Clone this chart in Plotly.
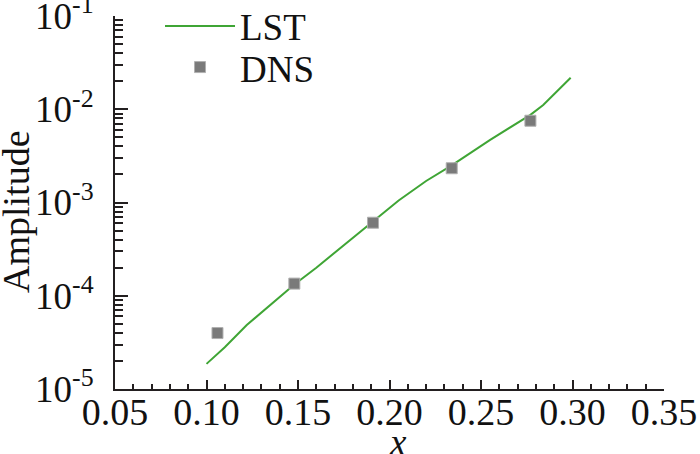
import plotly.graph_objects as go

# LST curve
lst_x = [0.100, 0.110, 0.122, 0.135, 0.148, 0.160, 0.175, 0.191, 0.205, 0.220,
         0.234, 0.255, 0.277, 0.284, 0.299]
lst_y = [1.86e-5, 2.8e-5, 4.85e-5, 8.0e-5, 1.32e-4, 2.0e-4, 3.5e-4, 6.3e-4,
         1.05e-3, 1.7e-3, 2.5e-3, 4.7e-3, 8.7e-3, 1.11e-2, 2.18e-2]

# DNS points
dns_x = [0.106, 0.148, 0.191, 0.234, 0.277]
dns_y = [3.98e-5, 1.35e-4, 6.07e-4, 2.33e-3, 7.53e-3]

x_ticks = [0.05, 0.10, 0.15, 0.20, 0.25, 0.30, 0.35]
x_labels = ["0.05", "0.10", "0.15", "0.20", "0.25", "0.30", "0.35"]
y_ticks = [1e-5, 1e-4, 1e-3, 1e-2, 1e-1]
y_labels = ["10<sup>-5</sup>", "10<sup>-4</sup>", "10<sup>-3</sup>",
            "10<sup>-2</sup>", "10<sup>-1</sup>"]

FONT = "Liberation Serif"
AXIS_COLOR = "#231f20"
TEXT_COLOR = "#111111"
TEXT_SIZE = 37

y_minor = [m * 10.0 ** e for e in range(-5, -1) for m in range(2, 10)]
x_minor = [round(0.05 + 0.01 * i, 2) for i in range(31)]

fig = go.Figure()

fig.add_trace(
    go.Scatter(
        x=lst_x,
        y=lst_y,
        name="LST",
        mode="lines",
        line=dict(color="#3fa535", width=2),
        legend="legend",
    )
)

fig.add_trace(
    go.Scatter(
        x=dns_x,
        y=dns_y,
        name="DNS",
        mode="markers",
        marker=dict(symbol="square", size=11, color="#7a7a7a",
                    line=dict(color="#b0b0b0", width=1)),
        legend="legend2",
    )
)

legend_style = dict(
    xanchor="left", yanchor="top",
    bgcolor="rgba(0,0,0,0)",
    font=dict(family=FONT, size=TEXT_SIZE, color=TEXT_COLOR),
    itemwidth=70,
)

fig.update_layout(
    width=700,
    height=454,
    paper_bgcolor="white",
    plot_bgcolor="white",
    margin=dict(l=115, r=36, t=16, b=65, autoexpand=False),
    font=dict(family=FONT, size=TEXT_SIZE, color=TEXT_COLOR),
    showlegend=True,
    legend=dict(x=0.082, y=1.055, **legend_style),
    legend2=dict(x=0.082, y=0.945, **legend_style),
    annotations=[
        dict(text="<i>x</i>", xref="paper", yref="paper", x=0.515, y=-0.143,
             xanchor="center", yanchor="middle", showarrow=False,
             font=dict(family=FONT, size=TEXT_SIZE, color=TEXT_COLOR)),
        dict(text="Amplitude", xref="paper", yref="paper", x=-0.18, y=0.475,
             xanchor="center", yanchor="middle", showarrow=False, textangle=-90,
             font=dict(family=FONT, size=38, color=TEXT_COLOR)),
    ],
)

fig.update_xaxes(
    range=[0.05, 0.35],
    tickvals=x_ticks,
    ticktext=x_labels,
    ticks="inside",
    ticklen=9,
    tickwidth=2,
    tickcolor=AXIS_COLOR,
    minor=dict(tickvals=x_minor, ticks="inside", ticklen=5, tickwidth=1.5,
               tickcolor=AXIS_COLOR, showgrid=False),
    showline=True,
    linecolor=AXIS_COLOR,
    linewidth=2,
    showgrid=False,
    zeroline=False,
    automargin=False,
    ticklabeloverflow="allow",
    ticklabelstandoff=-12,
    tickfont=dict(family=FONT, size=38, color=TEXT_COLOR),
)

fig.update_yaxes(
    type="log",
    range=[-5, -1],
    tickvals=y_ticks,
    ticktext=y_labels,
    ticks="inside",
    ticklen=13,
    tickwidth=2,
    tickcolor=AXIS_COLOR,
    minor=dict(tickvals=y_minor, ticks="inside", ticklen=8, tickwidth=1.5,
               tickcolor=AXIS_COLOR, showgrid=False),
    showline=True,
    linecolor=AXIS_COLOR,
    linewidth=2,
    showgrid=False,
    zeroline=False,
    automargin=False,
    ticklabeloverflow="allow",
    ticklabelstandoff=12,
    tickfont=dict(family=FONT, size=TEXT_SIZE, color=TEXT_COLOR),
)

# the page body has a default 8px margin; drop it so the figure sits at 0,0
fig.write_html(
    "out.html",
    config={"displayModeBar": False},
    post_script="document.body.style.margin='0';",
)
